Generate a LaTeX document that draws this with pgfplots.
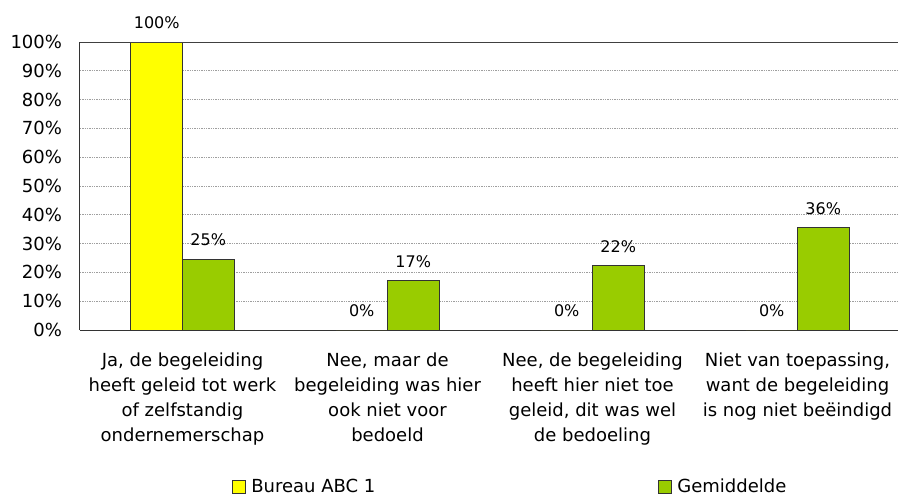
\documentclass[border=0pt]{standalone}
\usepackage{fontspec}
\setmainfont{DejaVu Sans}
\usepackage{pgfplots}
\pgfplotsset{compat=1.18}
\definecolor{cyellow}{HTML}{FFFF00}
\definecolor{cgreen}{HTML}{99CC00}
\begin{document}
\begin{tikzpicture}
\begin{axis}[
  at={(0,0)}, anchor=south west,
  scale only axis, width=615pt, height=216pt,
  ybar=0pt, bar width=38.625pt,
  xmin=-0.5, xmax=3.5, ymin=0, ymax=100,
  xtick={0,1,2,3},
  xticklabels={{Ja, de begeleiding\\heeft geleid tot werk\\of zelfstandig\\ondernemerschap},
               {Nee, maar de\\begeleiding was hier\\ook niet voor\\bedoeld},
               {Nee, de begeleiding\\heeft hier niet toe\\geleid, dit was wel\\de bedoeling},
               {Niet van toepassing,\\want de begeleiding\\is nog niet beëindigd}},
  xticklabel style={align=center, anchor=north, inner sep=0pt, yshift=-17.25pt, font=\fontsize{13.5}{18.75}\selectfont},
  ytick={0,10,...,100},
  yticklabel={\pgfmathprintnumber{\tick}\%},
  yticklabel style={anchor=east, inner sep=0pt, xshift=-13.3pt, font=\fontsize{13.5}{16}\selectfont},
  /pgf/number format/assume math mode=true,
  major tick length=0pt,
  axis x line*=bottom, axis y line*=left,
  axis line style={black!80, line width=0.75pt, -},
  ymajorgrids,
  major grid style={gray!75, dash pattern=on 1pt off 0.75pt, line width=0.75pt},
  nodes near coords={\pgfmathprintnumber[fixed,precision=0]{\pgfplotspointmeta}\%},
  every node near coord/.append style={font=\fontsize{12}{14}\selectfont, anchor=base, inner sep=0pt, yshift=10pt, black},
  legend columns=2,
  legend cell align=left,
  legend style={draw=none, fill=none, at={(0.185,-0.545)}, anchor=west, inner sep=0pt,
    nodes={inner sep=0pt, font=\fontsize{13.5}{16}\selectfont},
    /tikz/every odd column/.append style={column sep=4.3pt},
    /tikz/every even column/.append style={column sep=0pt}},
  legend image code/.code={\draw[#1] (0pt,-4.75pt) rectangle (9.5pt,4.75pt);},
  clip=false,
]
\addplot[fill=cyellow, draw=black!80, line width=0.75pt] coordinates {(0,100) (1,0) (2,0) (3,0)};
\addlegendentry{\makebox[305pt][l]{Bureau ABC 1}}
\addplot[fill=cgreen, draw=black!80, line width=0.75pt] coordinates {(0,24.6) (1,17.1) (2,22.4) (3,35.6)};
\addlegendentry{Gemiddelde}
\draw[black!75, line width=0.75pt] (axis cs:-0.5,100) -- (axis cs:3.5,100);
\end{axis}
\pgfresetboundingbox
\path (-60pt,-125.25pt) rectangle (613.5pt,247.5pt);
\end{tikzpicture}
\end{document}
